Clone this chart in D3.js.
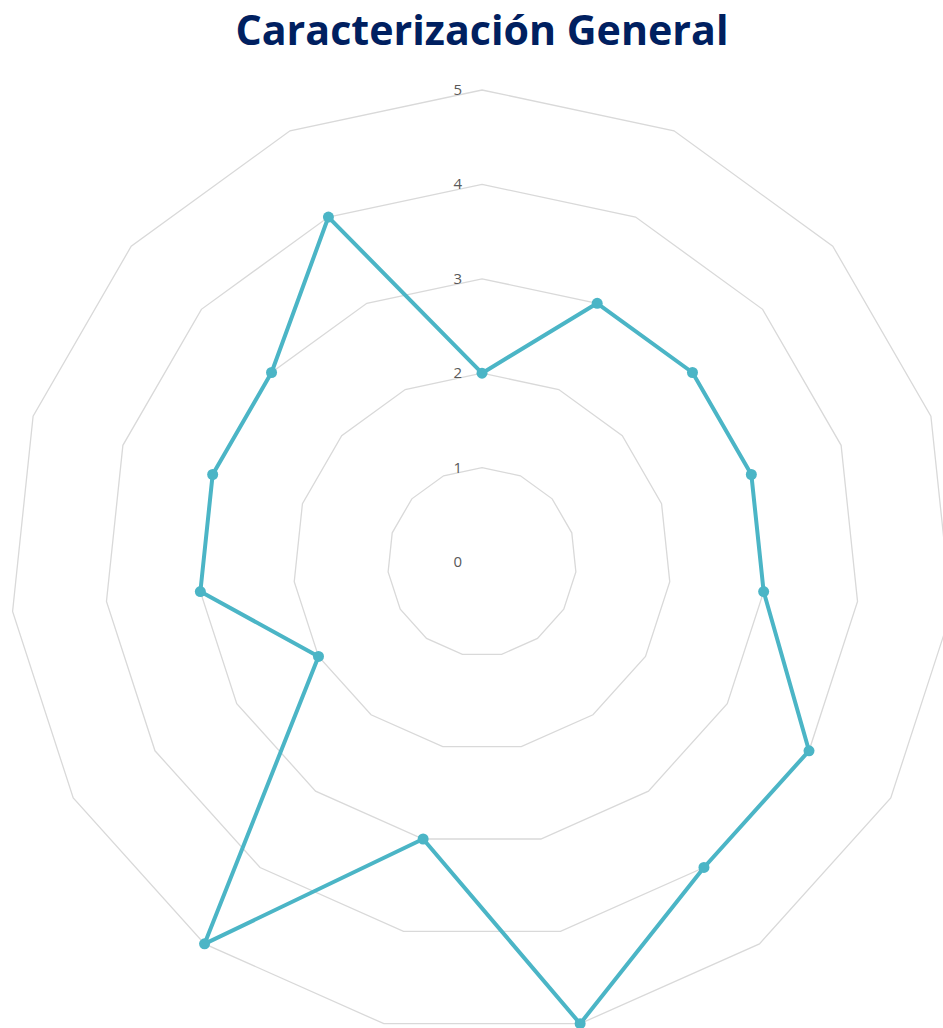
<!DOCTYPE html>
<html><head><meta charset="utf-8">
<script src="https://cdn.jsdelivr.net/npm/d3@7"></script>
<style>html,body{margin:0;padding:0;background:#fff;overflow:hidden}</style>
</head><body>
<svg id="chart" width="943" height="1028"></svg>
<script>
const title = "Caracterización General";
const categories = ["C1","C2","C3","C4","C5","C6","C7","C8","C9","C10","C11","C12","C13","C14","C15"];
const values = [2,3,3,3,3,4,4,5,3,5,2,3,3,3,4];
const tickValues = [0,1,2,3,4,5];

const W = 943, H = 1028;
const cx = 482, cy = 562, R = 472;
const svg = d3.select("#chart");

const r = d3.scaleLinear().domain([0,5]).range([0,R]);
const angle = d3.scaleLinear().domain([0,categories.length]).range([0,2*Math.PI]);

const g = svg.append("g").attr("transform",`translate(${cx},${cy})`);

const radial = d3.lineRadial().angle((d,i)=>angle(i)).radius(d=>r(d)).curve(d3.curveLinearClosed);

// grid polygons
tickValues.filter(t=>t>0).forEach(t=>{
  g.append("path")
   .attr("d", radial(categories.map(()=>t)))
   .attr("fill","none").attr("stroke","#d9d9d9").attr("stroke-width",1.3);
});

// tick labels
g.selectAll("text.tick").data(tickValues).join("text")
  .attr("class","tick")
  .attr("x",-20).attr("y",d=>-r(d)+1)
  .attr("text-anchor","end").attr("dominant-baseline","middle")
  .attr("font-family","'Open Sans', sans-serif").attr("font-size",15)
  .attr("fill","#595959").text(d=>d);

// data line
g.append("path").attr("d", radial(values))
  .attr("fill","none").attr("stroke","#4bb5c6").attr("stroke-width",4)
  .attr("stroke-linejoin","round");

g.selectAll("circle.pt").data(values).join("circle")
  .attr("class","pt")
  .attr("cx",(d,i)=>r(d)*Math.sin(angle(i)))
  .attr("cy",(d,i)=>-r(d)*Math.cos(angle(i)))
  .attr("r",5.5).attr("fill","#4bb5c6");

// title
svg.append("text").attr("x",cx).attr("y",45)
  .attr("text-anchor","middle")
  .attr("font-family","'Open Sans', sans-serif").attr("font-weight","bold")
  .attr("font-size",42).attr("fill","#002060")
  .attr("textLength",493).attr("lengthAdjust","spacingAndGlyphs")
  .text(title);
</script>
</body></html>
